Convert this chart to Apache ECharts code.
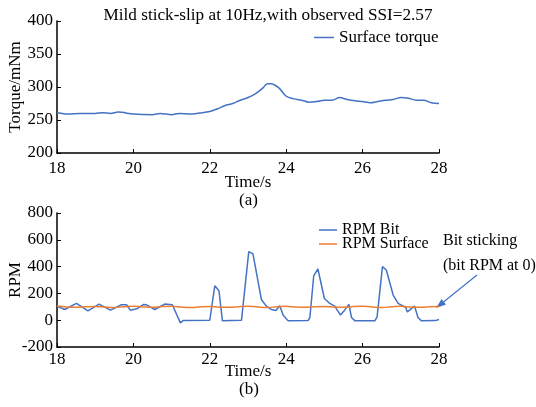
<!DOCTYPE html>
<html>
<head>
<meta charset="utf-8">
<script src="https://cdn.jsdelivr.net/npm/echarts@6/dist/echarts.min.js"></script>
<style>
  html, body { margin: 0; padding: 0; background: #fff; }
  #main { width: 536px; height: 407px; }
</style>
</head>
<body>
<div id="main"></div>
<script>
  // (a) surface torque
  var torqueTime = [18, 18.3, 18.6, 19, 19.2, 19.4, 19.6, 20, 20.5, 20.7, 21, 21.2, 21.5, 21.8,
    22, 22.2, 22.4, 22.6, 22.8, 23, 23.2, 23.4, 23.5, 23.6, 23.8, 24, 24.2, 24.4, 24.6, 24.8,
    25, 25.2, 25.4, 25.6, 25.8, 26, 26.2, 26.4, 26.6, 26.8, 27, 27.2, 27.4, 27.6, 27.8, 28];
  var torqueValue = [261, 259, 260, 260, 261, 260, 262, 259, 258, 260, 258, 260, 259, 261,
    263, 267, 272, 275, 280, 284, 290, 299, 305, 305, 299, 286, 282, 280, 277, 278,
    280, 280, 284, 281, 279, 278, 276, 278, 280, 281, 284, 283, 280, 280, 276, 275];

  // (b) bit RPM
  var bitTime = [18, 18.2, 18.51, 18.81, 19.1, 19.4, 19.69, 19.82, 19.92, 20.09, 20.27, 20.34,
    20.56, 20.82, 21.02, 21.23, 21.3, 22.0, 22.02, 22.13, 22.24, 22.33, 22.83, 23.02, 23.13,
    23.35, 23.48, 23.61, 23.73, 23.83, 23.92, 24.05, 24.57, 24.62, 24.72, 24.83, 25.0, 25.14,
    25.27, 25.42, 25.53, 25.64, 25.71, 25.8, 26.32, 26.38, 26.52, 26.62, 26.8, 26.93, 27.13,
    27.17, 27.36, 27.45, 27.54, 27.9, 28];
  var bitRpm = [105, 80, 125, 70, 120, 75, 115, 115, 75, 85, 118, 115,
    80, 120, 115, -20, -3, 0, 12, 257, 220, -5, 0, 512, 495,
    155, 105, 80, 72, 108, 38, -5, -3, 20, 330, 382, 162, 125,
    105, 38, 75, 118, 20, -5, -5, 25, 400, 375, 188, 125, 95,
    62, 105, 20, -5, -3, 5];

  // (b) surface RPM
  var surfTime = [18, 18.25, 18.5, 18.75, 19, 19.25, 19.5, 19.75, 20, 20.25, 20.5, 20.75,
    21, 21.25, 21.5, 21.75, 22, 22.25, 22.5, 22.75, 23, 23.25, 23.5, 23.75, 24, 24.25,
    24.5, 24.75, 25, 25.25, 25.5, 25.75, 26, 26.25, 26.5, 26.75, 27, 27.25, 27.5, 27.75, 28];
  var surfRpm = [106, 99, 96, 101, 103, 98, 95, 100, 104, 99, 96, 102,
    104, 98, 95, 100, 103, 97, 96, 101, 104, 99, 95, 100, 104, 98,
    96, 101, 103, 98, 96, 102, 104, 99, 95, 100, 104, 98, 96, 101, 103];

  function pairs(xs, ys) {
    var out = [];
    for (var i = 0; i < xs.length; i++) out.push([xs[i], ys[i]]);
    return out;
  }

  var serif = 'Liberation Serif';
  var blue = '#4472C4';
  var orange = '#ED7D31';

  function xAx(grid, margin, gap) {
    return {
      type: 'value', gridIndex: grid, min: 18, max: 28, interval: 2,
      name: 'Time/s', nameLocation: 'middle', nameGap: gap, nameMoveOverlap: false,
      nameTextStyle: { fontFamily: serif, fontSize: 17, color: '#000' },
      axisLine: { onZero: false, lineStyle: { color: '#000', width: 1.5 } },
      axisTick: { inside: true, length: 4, lineStyle: { color: '#000' } },
      axisLabel: { fontFamily: serif, fontSize: 17, color: '#000', margin: margin },
      splitLine: { show: false }
    };
  }
  function yAx(grid, min, max, step, name) {
    return {
      type: 'value', gridIndex: grid, min: min, max: max, interval: step,
      name: name, nameLocation: 'middle', nameGap: 33, nameMoveOverlap: false,
      nameTextStyle: { fontFamily: serif, fontSize: 17, color: '#000' },
      axisLine: { show: true, onZero: false, lineStyle: { color: '#000', width: 1.5 } },
      axisTick: { show: true, inside: true, length: 4, lineStyle: { color: '#000' } },
      axisLabel: { fontFamily: serif, fontSize: 17, color: '#000', margin: 4 },
      splitLine: { show: false }
    };
  }

  var chart = echarts.init(document.getElementById('main'));
  var option = {
    animation: false,
    title: {
      text: 'Mild stick-slip at 10Hz,with observed SSI=2.57',
      left: 263, top: 2, textAlign: 'center',
      textStyle: { fontFamily: serif, fontSize: 17.2, fontWeight: 'normal', color: '#000' }
    },
    grid: [
      { left: 57, top: 21, width: 382, height: 132, outerBoundsMode: 'none' },
      { left: 57, top: 213, width: 382, height: 134, outerBoundsMode: 'none' }
    ],
    legend: [
      {
        data: ['Surface torque'], left: 309, top: 24, icon: 'rect',
        itemWidth: 20, itemHeight: 1.5, itemGap: 0,
        textStyle: { fontFamily: serif, fontSize: 17, color: '#000' }
      },
      {
        data: ['RPM Bit', 'RPM Surface'], left: 314, top: 217, orient: 'vertical', icon: 'rect',
        itemWidth: 18, itemHeight: 1.5, itemGap: -2,
        textStyle: { fontFamily: serif, fontSize: 16, color: '#000' }
      }
    ],
    xAxis: [xAx(0, 7, 21), xAx(1, 4, 16)],
    yAxis: [yAx(0, 200, 400, 50, 'Torque/mNm'), yAx(1, -200, 800, 200, 'RPM')],
    series: [
      {
        name: 'Surface torque', type: 'line', xAxisIndex: 0, yAxisIndex: 0,
        data: pairs(torqueTime, torqueValue), symbol: 'none', smooth: 0.3,
        lineStyle: { color: blue, width: 1.5 }, itemStyle: { color: blue }
      },
      {
        name: 'RPM Bit', type: 'line', xAxisIndex: 1, yAxisIndex: 1,
        data: pairs(bitTime, bitRpm), symbol: 'none',
        lineStyle: { color: blue, width: 1.5 }, itemStyle: { color: blue }
      },
      {
        name: 'RPM Surface', type: 'line', xAxisIndex: 1, yAxisIndex: 1,
        data: pairs(surfTime, surfRpm), symbol: 'none', smooth: 0.4,
        lineStyle: { color: orange, width: 1.5 }, itemStyle: { color: orange }
      }
    ],
    graphic: [
      { type: 'text', left: 239, top: 192, style: { text: '(a)', font: '17px "Liberation Serif"', fill: '#000' } },
      { type: 'text', left: 239, top: 381, style: { text: '(b)', font: '17px "Liberation Serif"', fill: '#000' } },
      { type: 'text', left: 443, top: 233, style: { text: 'Bit sticking', font: '16px "Liberation Serif"', fill: '#000' } },
      { type: 'text', left: 443, top: 258, style: { text: '(bit RPM at 0)', font: '16px "Liberation Serif"', fill: '#000' } },
      { type: 'line', shape: { x1: 477, y1: 275, x2: 443.8, y2: 301.7 }, style: { stroke: blue, lineWidth: 1.2 } },
      { type: 'polygon', shape: { points: [[436, 308], [446, 304.4], [441.6, 299]] }, style: { fill: blue } }
    ]
  };
  chart.setOption(option);
</script>
</body>
</html>
